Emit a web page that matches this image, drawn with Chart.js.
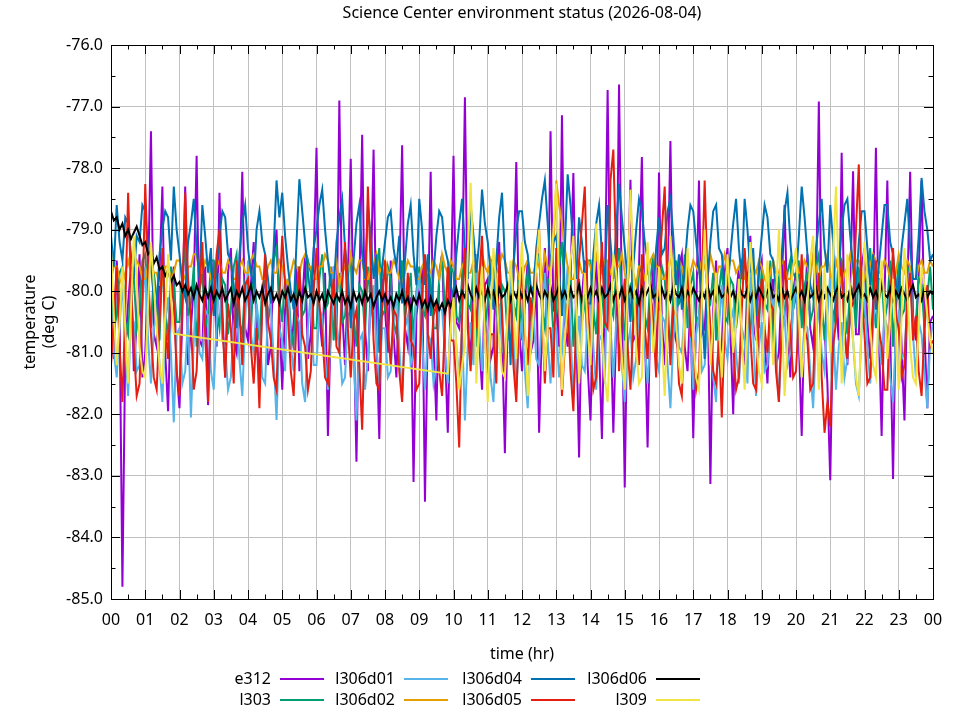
<!DOCTYPE html>
<html>
<head>
<meta charset="utf-8">
<script src="https://cdn.jsdelivr.net/npm/chart.js@4.4.1/dist/chart.umd.min.js"></script>
<style>
  html, body { margin: 0; padding: 0; background: #fff; }
  #wrap { position: relative; width: 960px; height: 720px; font-family: "Noto Sans", sans-serif; }
  #c { position: absolute; left: 0; top: 0; }
  .lg-label { position: absolute; width: 120px; text-align: right; font-size: 16px; line-height: 20px; color: #000; }
  .lg-line { position: absolute; width: 44px; height: 2px; }
</style>
</head>
<body>
<div id="wrap">
  <canvas id="c" width="960" height="720"></canvas>
</div>
<script>
// ---- data (temperatures, deg C), 5-minute samples from 00:00 to 24:00 ----
const chartTitle = 'Science Center environment status (2026-08-04)';
const hourLabels = ['00','01','02','03','04','05','06','07','08','09','10','11','12',
                    '13','14','15','16','17','18','19','20','21','22','23','00'];
const seriesNames = ['e312','l303','l306d01','l306d02','l306d04','l306d05','l306d06','l309'];
const seriesColors = ['#9400d3','#009e73','#56b4e9','#e69f00','#0072b2','#e51e10','#000000','#f0e442'];
const timeHours = Array.from({length: 289}, (_, i) => i / 12);

const e312 = [
 -80.6,-81.1,-79.5,-80.3,-84.8,-80.9,-80.2,-79.6,-81.3,-80.5,-79.4,-81.4,-81.0,-79.8,-77.4,-80.7,-80.9,-79.7,-78.3,-81.0,-81.95,-80.2,-79.6,-81.3,
 -81.9,-80.4,-78.3,-81.2,-80.6,-79.9,-77.8,-80.8,-80.9,-79.6,-81.85,-80.1,-79.5,-80.9,-78.4,-80.3,-81.4,-79.7,-79.3,-80.8,-81.0,-79.9,-78.06,-80.6,
 -80.8,-79.9,-79.2,-80.6,-81.5,-80.1,-79.7,-81.2,-80.9,-79.5,-79.0,-80.4,-81.6,-80.3,-79.8,-81.0,-80.5,-79.6,-81.3,-80.2,-79.4,-81.1,-80.7,-79.5,
 -77.67,-80.4,-80.9,-79.7,-82.35,-80.6,-79.6,-80.8,-76.9,-80.3,-81.2,-79.8,-77.85,-80.5,-82.77,-80.0,-77.46,-80.6,-81.3,-79.9,-77.7,-80.7,-82.4,-79.8,
 -80.3,-81.0,-79.5,-80.7,-81.4,-79.9,-77.63,-80.6,-80.9,-80.1,-83.1,-80.4,-80.0,-79.6,-83.42,-80.5,-78.06,-80.8,-82.1,-79.7,-79.4,-80.9,-82.3,-80.2,
 -77.8,-80.5,-80.6,-79.9,-76.85,-80.4,-81.2,-79.7,-79.4,-80.8,-81.6,-79.9,-79.8,-81.1,-80.9,-79.6,-79.2,-80.7,-82.63,-80.4,-80.3,-79.8,-77.9,-80.6,
 -81.3,-80.2,-79.5,-81.0,-80.8,-79.7,-82.3,-80.5,-79.3,-80.6,-77.4,-80.3,-80.2,-80.9,-77.14,-80.5,-80.9,-79.8,-78.08,-80.6,-82.7,-80.1,-79.5,-81.2,
 -82.1,-80.3,-79.4,-80.9,-82.4,-80.1,-76.73,-80.4,-82.3,-80.6,-76.64,-80.2,-83.19,-80.0,-78.19,-80.8,-80.7,-79.6,-77.82,-80.5,-82.54,-80.3,-79.6,-81.0,
 -78.07,-80.5,-81.2,-80.0,-77.56,-80.6,-80.8,-79.6,-79.4,-80.9,-81.3,-80.2,-82.39,-80.4,-78.2,-80.7,-80.6,-79.8,-83.13,-80.3,-79.5,-81.1,-80.9,-79.7,
 -79.3,-80.6,-82.0,-80.1,-79.6,-80.9,-81.2,-79.8,-79.1,-80.5,-80.8,-79.7,-79.5,-80.8,-81.5,-80.2,-79.8,-81.2,-81.0,-79.9,-78.6,-80.4,-81.4,-80.0,
 -79.7,-80.8,-82.35,-80.3,-79.4,-80.6,-80.9,-80.1,-76.92,-80.5,-80.6,-81.5,-83.07,-80.4,-80.2,-80.8,-77.75,-80.6,-81.2,-79.9,-78.05,-80.7,-80.7,-79.6,
 -79.3,-80.5,-81.1,-80.2,-77.67,-80.6,-82.35,-80.1,-78.2,-80.7,-83.05,-80.3,-79.6,-80.9,-82.1,-80.0,-78.06,-80.4,-80.8,-79.7,-78.2,-80.6,-81.9,-80.5,
 -80.4];

const l303 = [
 -79.9,-80.6,-80.4,-79.7,-79.6,-80.5,-80.7,-79.8,-79.8,-80.6,-80.3,-79.5,-79.4,-80.2,-80.6,-79.7,-80.1,-80.8,-79.5,-80.3,-80.8,-79.6,-79.9,-80.5,
 -80.5,-79.7,-79.3,-80.4,-80.2,-79.6,-80.9,-80.0,-79.7,-80.6,-80.4,-79.5,-79.5,-80.3,-80.6,-79.8,-79.9,-80.7,-80.3,-79.6,-79.4,-80.5,-80.7,-79.9,
 -80.1,-80.7,-79.6,-80.3,-80.8,-79.9,-79.8,-80.5,-80.2,-79.5,-79.3,-80.1,-80.5,-79.8,-79.9,-80.6,-80.9,-80.0,-79.6,-80.4,-80.3,-79.5,-79.7,-80.6,
 -80.6,-79.8,-79.4,-80.3,-80.2,-79.6,-80.8,-80.1,-79.7,-80.5,-80.4,-79.7,-79.5,-80.4,-80.9,-79.9,-80.0,-80.7,-79.6,-80.2,-80.5,-79.7,-79.3,-80.4,
 -80.3,-79.6,-79.8,-80.5,-80.7,-79.9,-79.5,-80.4,-80.1,-79.7,-80.8,-80.0,-79.6,-80.3,-80.4,-79.5,-79.9,-80.6,-80.6,-79.8,-79.4,-80.3,-80.2,-79.6,
 -79.7,-80.4,-80.5,-79.8,-79.3,-80.2,-80.3,-79.6,-80.9,-80.1,-79.8,-80.6,-80.2,-79.5,-79.5,-80.3,-80.7,-79.9,-80.0,-80.8,-79.6,-80.2,-80.4,-79.7,
 -80.8,-80.0,-79.7,-80.5,-80.1,-79.4,-79.4,-80.3,-80.6,-79.8,-79.9,-80.7,-80.3,-79.6,-79.2,-80.1,-80.5,-79.7,-80.9,-80.2,-79.8,-80.5,-80.2,-79.5,
 -79.5,-80.3,-80.7,-79.9,-80.0,-80.6,-79.6,-80.2,-80.4,-79.7,-79.3,-80.1,-80.8,-80.0,-79.9,-80.5,-80.2,-79.6,-79.7,-80.4,-80.6,-79.8,-79.4,-80.3,
 -80.3,-79.6,-79.8,-80.5,-80.9,-80.1,-79.5,-80.2,-80.1,-79.4,-80.6,-79.9,-79.7,-80.5,-80.4,-79.6,-79.3,-80.1,-80.2,-79.7,-80.8,-80.0,-79.6,-80.4,
 -80.5,-79.8,-79.9,-80.6,-80.2,-79.5,-79.4,-80.3,-80.7,-79.9,-80.0,-80.6,-79.6,-80.2,-80.3,-79.5,-80.9,-80.1,-79.8,-80.5,-80.4,-79.7,-79.5,-80.3,
 -80.1,-79.5,-80.6,-79.9,-79.7,-80.5,-80.3,-79.6,-79.4,-80.2,-80.8,-80.0,-79.9,-80.6,-80.2,-79.4,-79.5,-80.3,-80.7,-79.9,-80.0,-80.6,-79.6,-80.3,
 -80.4,-79.7,-79.3,-80.1,-80.6,-79.8,-79.8,-80.5,-80.2,-79.5,-80.9,-80.1,-79.5,-80.4,-80.3,-79.6,-79.7,-80.5,-80.5,-79.8,-79.9,-80.6,-80.1,-79.6,
 -80.3];

const l306d01 = [
 -80.3,-81.0,-81.4,-80.6,-79.8,-80.9,-81.7,-80.4,-80.5,-81.3,-81.2,-80.2,-79.6,-80.8,-81.5,-80.6,-80.4,-81.2,-81.8,-80.5,-80.1,-81.0,-82.13,-80.7,
 -80.6,-81.5,-81.3,-80.4,-82.05,-80.8,-79.9,-81.0,-81.1,-80.3,-80.4,-81.3,-81.6,-80.5,-79.7,-80.8,-80.9,-81.6,-81.4,-80.6,-80.2,-81.1,-81.7,-80.5,
 -79.5,-80.7,-81.0,-80.2,-80.6,-81.4,-81.5,-80.3,-80.2,-81.1,-82.09,-80.6,-80.8,-81.3,-79.8,-80.9,-81.3,-80.4,-80.5,-81.5,-81.8,-80.6,-80.0,-81.2,
 -81.2,-80.3,-80.4,-81.1,-81.6,-80.7,-79.6,-80.5,-80.9,-81.5,-81.4,-80.4,-80.3,-81.0,-82.1,-80.8,-80.7,-81.6,-81.1,-80.2,-79.9,-80.9,-81.5,-80.6,
 -80.6,-81.4,-81.3,-80.5,-80.0,-80.9,-81.7,-80.6,-80.4,-81.2,-81.0,-80.1,-79.7,-80.8,-81.6,-80.7,-80.8,-81.5,-81.2,-80.3,-80.3,-81.0,-81.5,-80.4,
 -80.1,-80.9,-81.4,-80.6,-82.1,-80.9,-80.5,-81.2,-79.4,-80.6,-81.3,-80.5,-80.7,-81.4,-81.8,-80.6,-80.2,-80.9,-81.1,-80.4,-79.8,-80.7,-81.6,-80.8,
 -80.5,-81.3,-81.9,-80.7,-80.3,-81.1,-81.2,-80.4,-79.7,-80.8,-81.5,-80.6,-80.6,-81.4,-81.0,-80.2,-79.6,-80.7,-81.7,-80.9,-80.4,-81.2,-81.3,-80.5,
 -80.0,-80.9,-81.6,-80.7,-80.8,-81.5,-79.5,-80.6,-81.4,-80.5,-80.3,-81.2,-81.8,-80.9,-80.6,-81.4,-81.1,-80.3,-79.8,-80.9,-81.5,-80.7,-80.2,-81.1,
 -81.3,-80.4,-80.5,-81.2,-81.9,-80.8,-80.1,-80.9,-81.0,-80.3,-79.7,-80.8,-81.6,-80.7,-80.4,-81.3,-81.2,-80.5,-80.7,-81.4,-81.8,-80.6,-79.9,-80.8,
 -81.1,-80.5,-80.3,-81.0,-81.5,-80.6,-80.8,-81.5,-79.6,-80.7,-81.7,-80.9,-80.5,-81.3,-81.2,-80.4,-80.0,-80.9,-81.8,-80.7,-80.4,-81.2,-81.0,-80.3,
 -79.8,-80.7,-81.4,-80.5,-80.6,-81.3,-81.9,-80.8,-80.2,-81.0,-81.3,-80.4,-79.7,-80.6,-81.6,-80.9,-80.5,-81.4,-81.1,-80.3,-80.8,-81.5,-81.7,-80.6,
 -80.1,-80.9,-81.5,-80.6,-79.9,-80.8,-81.2,-80.4,-80.6,-81.4,-81.8,-80.7,-80.3,-81.1,-81.0,-80.2,-79.6,-80.7,-81.4,-80.5,-80.7,-81.3,-81.9,-80.8,
 -80.5];

const l306d02 = [
 -79.8,-79.6,-79.6,-79.8,-79.9,-79.7,-79.5,-79.7,-79.7,-79.5,-79.6,-79.8,-79.8,-79.6,-79.5,-79.7,-79.7,-79.9,-79.9,-79.6,-79.6,-79.8,-79.7,-79.5,
 -79.5,-79.7,-79.8,-79.6,-79.6,-79.4,-79.4,-79.7,-79.7,-79.5,-79.6,-79.8,-79.9,-79.6,-79.5,-79.7,-79.7,-79.5,-79.6,-79.8,-79.8,-79.6,-79.5,-79.7,
 -79.7,-79.5,-79.4,-79.6,-79.6,-79.8,-79.8,-79.6,-79.5,-79.7,-79.7,-79.5,-79.6,-79.8,-79.9,-79.7,-79.5,-79.6,-79.7,-79.5,-79.4,-79.6,-79.6,-79.8,
 -79.8,-79.6,-79.6,-79.4,-79.5,-79.7,-79.7,-79.5,-79.9,-79.7,-79.6,-79.8,-79.4,-79.6,-79.7,-79.5,-79.5,-79.8,-79.8,-79.6,-79.6,-79.4,-79.7,-79.6,
 -79.5,-79.7,-79.7,-79.5,-79.6,-79.8,-79.9,-79.7,-79.5,-79.6,-79.6,-79.8,-79.8,-79.6,-79.5,-79.7,-79.7,-79.5,-79.6,-79.8,-79.4,-79.6,-79.7,-79.5,
 -79.6,-79.8,-79.8,-79.6,-79.5,-79.7,-79.7,-79.5,-79.6,-79.8,-79.4,-79.6,-79.7,-79.5,-79.9,-79.7,-79.6,-79.4,-79.5,-79.7,-79.7,-79.5,-79.6,-79.8,
 -79.8,-79.6,-79.5,-79.7,-79.7,-79.5,-79.6,-79.8,-79.4,-79.6,-79.7,-79.3,-78.2,-78.6,-78.9,-79.3,-79.6,-79.8,-79.8,-79.6,-79.5,-79.7,-79.7,-79.5,
 -79.6,-79.8,-79.4,-79.6,-79.7,-79.5,-79.5,-79.7,-79.8,-79.6,-79.6,-79.4,-79.7,-79.9,-79.5,-79.7,-79.9,-79.6,-79.6,-79.8,-79.7,-79.5,-79.4,-79.6,
 -79.6,-79.8,-79.8,-79.6,-79.5,-79.7,-79.7,-79.5,-79.6,-79.8,-79.9,-79.7,-79.5,-79.6,-79.7,-79.5,-79.6,-79.8,-79.4,-79.6,-79.8,-79.6,-79.6,-79.4,
 -79.7,-79.5,-79.5,-79.7,-79.6,-79.8,-79.8,-79.6,-79.4,-79.6,-79.7,-79.5,-79.6,-79.8,-79.9,-79.7,-79.5,-79.7,-79.7,-79.5,-79.6,-79.8,-79.8,-79.6,
 -79.5,-79.7,-79.7,-79.5,-79.6,-79.8,-79.4,-79.6,-79.8,-79.6,-79.6,-79.4,-79.7,-79.9,-79.5,-79.7,-79.9,-79.7,-79.6,-79.4,-79.7,-79.5,-79.5,-79.7,
 -79.8,-79.6,-79.6,-79.4,-79.5,-79.7,-79.7,-79.5,-79.6,-79.8,-79.9,-79.7,-79.4,-79.6,-79.7,-79.5,-79.6,-79.8,-79.8,-79.6,-79.5,-79.7,-79.7,-79.5,
 -79.6];

const l306d04 = [
 -79.1,-79.6,-78.6,-79.2,-79.5,-78.8,-78.9,-79.4,-79.8,-79.1,-79.2,-78.6,-78.7,-79.3,-79.6,-80.1,-80.3,-79.4,-79.0,-78.7,-78.8,-79.5,-78.3,-79.0,
 -79.4,-79.9,-80.1,-79.2,-78.9,-78.5,-79.3,-79.8,-78.6,-79.1,-79.7,-79.3,-80.4,-79.6,-79.1,-78.7,-78.8,-79.4,-79.5,-79.9,-80.6,-79.4,-78.9,-78.6,
 -79.3,-79.7,-79.9,-79.0,-78.7,-79.2,-79.4,-79.8,-80.2,-79.3,-78.2,-78.8,-78.4,-79.1,-79.6,-80.0,-80.3,-79.2,-78.18,-78.7,-79.2,-79.7,-80.1,-79.3,
 -79.0,-78.6,-78.35,-79.0,-79.5,-79.9,-80.0,-79.2,-78.8,-78.5,-79.3,-79.7,-80.6,-79.5,-78.9,-78.6,-79.4,-79.8,-78.6,-79.1,-79.8,-79.4,-81.0,-79.6,
 -79.2,-78.8,-78.7,-79.3,-79.6,-79.1,-80.2,-79.5,-78.9,-78.6,-79.4,-79.9,-78.5,-79.0,-79.9,-79.4,-80.4,-79.7,-79.1,-78.7,-78.8,-79.3,-79.5,-79.9,
 -80.1,-79.4,-78.9,-78.5,-79.3,-79.8,-78.6,-79.1,-79.7,-79.2,-78.35,-78.9,-79.2,-79.7,-80.3,-79.5,-78.8,-78.4,-79.5,-80.0,-81.2,-79.6,-79.0,-78.7,
 -78.7,-79.2,-79.4,-79.9,-80.0,-79.3,-78.9,-78.5,-78.2,-78.9,-79.6,-79.2,-79.1,-79.7,-80.4,-79.3,-78.1,-78.6,-79.3,-79.8,-78.8,-79.2,-79.7,-80.2,
 -80.2,-79.4,-78.9,-78.6,-79.4,-79.9,-78.6,-79.2,-79.8,-79.0,-78.25,-78.8,-79.3,-79.8,-80.5,-79.6,-79.0,-78.5,-78.7,-79.2,-79.5,-80.0,-80.1,-79.3,
 -78.8,-79.4,-79.3,-78.7,-78.5,-79.1,-79.9,-79.4,-80.3,-79.6,-79.0,-78.6,-78.7,-79.2,-79.6,-80.2,-81.1,-79.8,-79.2,-78.7,-78.6,-79.3,-79.4,-79.9,
 -80.0,-79.4,-78.9,-78.5,-79.3,-79.8,-78.5,-79.0,-79.7,-79.3,-80.4,-79.6,-79.1,-78.6,-78.8,-79.4,-79.5,-80.0,-80.2,-79.4,-78.7,-78.4,-79.2,-79.7,
 -79.8,-79.1,-78.3,-78.8,-79.4,-79.9,-80.1,-79.3,-78.9,-78.5,-79.3,-79.7,-78.6,-79.2,-80.5,-79.6,-79.0,-78.6,-78.5,-79.1,-79.6,-80.0,-79.2,-78.7,
 -78.7,-79.3,-79.9,-79.4,-80.3,-79.6,-79.1,-78.6,-78.6,-79.2,-79.4,-79.9,-80.0,-79.3,-78.9,-78.5,-79.3,-79.8,-79.8,-79.1,-78.16,-78.7,-79.0,-79.5,
 -79.4];

const l306d05 = [
 -81.2,-80.4,-79.6,-80.9,-81.8,-80.3,-78.4,-79.9,-80.9,-81.7,-81.5,-80.2,-78.26,-79.7,-80.7,-81.4,-81.6,-80.5,-79.3,-80.6,-81.1,-79.8,-80.2,-81.3,
 -81.7,-80.1,-78.4,-79.8,-80.5,-81.6,-81.3,-80.0,-79.2,-80.7,-81.8,-80.4,-80.1,-79.4,-79.0,-80.5,-81.4,-80.2,-80.6,-81.5,-79.5,-80.3,-81.2,-79.9,
 -79.8,-80.9,-81.5,-80.6,-81.9,-80.2,-79.4,-80.5,-80.8,-81.4,-81.6,-80.1,-79.1,-79.9,-80.4,-81.3,-81.7,-80.4,-79.6,-80.7,-80.9,-81.6,-81.3,-80.0,
 -79.3,-80.2,-80.7,-81.4,-81.5,-80.3,-79.8,-80.9,-81.0,-79.9,-79.2,-80.6,-81.4,-80.5,-80.3,-81.2,-82.25,-80.4,-78.3,-79.6,-80.8,-81.5,-81.6,-80.2,
 -79.5,-80.6,-81.2,-80.3,-80.4,-81.3,-81.8,-80.5,-79.7,-80.8,-80.9,-81.6,-81.5,-80.1,-79.4,-80.7,-81.1,-80.4,-80.2,-81.3,-81.7,-80.5,-79.6,-80.8,
 -80.8,-81.5,-82.54,-80.4,-79.3,-80.6,-81.3,-80.2,-80.5,-79.8,-79.1,-80.4,-81.6,-80.7,-80.7,-81.5,-79.4,-80.3,-81.4,-80.5,-80.1,-81.2,-81.8,-80.3,
 -79.6,-80.7,-81.2,-80.1,-80.4,-79.6,-79.0,-80.3,-81.5,-80.6,-80.6,-81.4,-79.3,-80.2,-81.7,-80.9,-80.2,-81.3,-81.95,-80.4,-79.5,-78.9,-78.3,-80.2,
 -80.9,-81.6,-81.4,-80.2,-79.2,-80.5,-80.6,-78.2,-77.7,-79.5,-81.3,-80.4,-79.8,-80.9,-81.6,-80.5,-80.3,-81.2,-79.4,-80.6,-81.1,-80.0,-80.5,-81.4,
 -79.7,-79.0,-78.3,-80.1,-81.2,-80.3,-80.4,-81.5,-81.7,-80.4,-79.5,-80.7,-80.8,-81.6,-81.3,-79.9,-78.2,-79.8,-80.6,-81.3,-81.5,-80.8,-82.05,-80.6,
 -79.6,-80.5,-80.9,-81.6,-81.4,-80.3,-79.3,-80.1,-80.7,-81.5,-81.6,-80.4,-79.8,-80.6,-81.0,-80.2,-80.3,-81.3,-81.8,-80.5,-79.5,-80.2,-80.6,-81.4,
 -81.3,-80.4,-79.4,-80.6,-80.8,-81.6,-81.5,-80.2,-79.7,-81.4,-82.3,-81.8,-82.2,-80.9,-80.5,-79.8,-79.6,-80.7,-81.1,-80.3,-80.2,-79.0,-77.94,-80.1,
 -80.7,-81.5,-81.4,-80.3,-79.5,-80.6,-80.9,-81.6,-81.6,-80.2,-79.3,-80.4,-80.6,-81.4,-81.2,-80.1,-79.7,-80.8,-80.4,-81.3,-81.7,-80.6,-79.9,-80.9,
 -80.8];

const l306d06 = [
 -78.7,-78.85,-78.8,-79.0,-78.9,-79.1,-79.0,-79.15,-79.05,-78.95,-79.1,-79.25,-79.2,-79.4,-79.35,-79.55,-79.45,-79.65,-79.6,-79.75,-79.65,-79.85,-79.75,-79.9,
 -79.85,-80.0,-79.9,-80.05,-79.95,-80.1,-79.9,-80.05,-80.15,-79.95,-80.1,-79.95,-80.15,-80.0,-80.1,-79.95,-80.15,-80.05,-79.95,-80.2,-80.0,-80.1,-79.95,-80.15,
 -80.05,-79.9,-80.15,-80.0,-80.1,-79.95,-80.2,-80.05,-79.95,-80.15,-80.05,-80.2,-80.0,-80.1,-79.95,-80.15,-80.05,-80.2,-80.0,-80.15,-79.95,-80.1,-80.05,-80.2,
 -80.0,-80.15,-80.05,-80.25,-80.0,-80.1,-80.2,-80.05,-80.15,-80.0,-80.2,-80.1,-80.25,-80.0,-80.15,-80.05,-80.2,-80.0,-80.15,-80.05,-80.25,-80.1,-80.0,-80.15,
 -80.05,-80.2,-80.1,-80.25,-80.05,-80.15,-80.0,-80.2,-80.1,-80.3,-80.1,-80.2,-80.05,-80.25,-80.15,-80.3,-80.1,-80.25,-80.15,-80.3,-80.2,-80.35,-80.15,-80.25,
 -80.1,-79.95,-80.15,-80.0,-80.1,-79.9,-80.05,-80.15,-79.95,-80.1,-80.0,-80.15,-79.95,-80.1,-80.0,-80.2,-79.95,-80.1,-80.05,-79.9,-80.15,-80.0,-80.1,-79.95,
 -80.1,-80.0,-80.15,-79.95,-80.1,-79.9,-80.05,-80.15,-80.0,-80.1,-79.95,-80.15,-80.05,-79.9,-80.1,-80.0,-80.15,-79.95,-80.1,-80.05,-79.9,-80.15,-80.0,-80.1,
 -79.95,-80.1,-80.0,-80.15,-79.95,-80.1,-80.05,-79.9,-80.15,-80.0,-80.1,-79.95,-80.15,-80.05,-79.95,-80.1,-80.0,-80.2,-79.95,-80.1,-80.0,-79.9,-80.1,-80.05,
 -80.15,-79.95,-80.1,-80.0,-80.15,-79.9,-80.05,-80.1,-79.95,-80.15,-80.0,-80.1,-79.95,-80.05,-80.15,-80.0,-80.1,-79.9,-80.1,-80.0,-80.15,-79.95,-80.1,-80.05,
 -79.95,-80.1,-80.0,-80.15,-79.9,-80.05,-80.1,-79.95,-80.15,-80.0,-80.1,-79.95,-80.05,-80.15,-80.0,-79.9,-80.1,-80.05,-80.15,-79.95,-80.1,-80.0,-80.15,-80.05,
 -79.95,-80.1,-80.0,-80.15,-79.9,-80.1,-80.05,-79.95,-80.15,-80.0,-80.1,-79.95,-80.05,-80.15,-80.0,-79.9,-80.1,-80.05,-80.15,-79.95,-80.1,-80.0,-79.9,-80.1,
 -80.05,-80.15,-79.95,-80.1,-80.0,-80.15,-79.9,-80.05,-80.1,-79.95,-80.15,-80.0,-80.1,-79.95,-80.05,-80.15,-80.0,-79.9,-80.1,-80.05,-80.15,-79.95,-80.1,-80.0,
 -80.05];

// l309 has no readings between about 01:50 and 09:50 (the line spans the gap)
const l309 = [
 -79.3,-80.4,-81.2,-80.5,-79.6,-80.6,-81.5,-80.3,-79.1,-79.8,-80.9,-81.3,-81.4,-80.2,-79.2,-79.9,-80.6,-81.2,-81.5,-80.4,-79.4,-80.1,-80.69,null,
 null,null,null,null,null,null,null,null,null,null,null,null,null,null,null,null,null,null,null,null,null,null,null,null,
 null,null,null,null,null,null,null,null,null,null,null,null,null,null,null,null,null,null,null,null,null,null,null,null,
 null,null,null,null,null,null,null,null,null,null,null,null,null,null,null,null,null,null,null,null,null,null,null,null,
 null,null,null,null,null,null,null,null,null,null,null,null,null,null,null,null,null,null,null,null,null,null,-81.34,-80.6,
 -80.1,-80.9,-81.6,-81.2,-80.9,-79.4,-78.24,-79.6,-81.5,-80.5,-79.6,-80.7,-81.8,-80.4,-79.3,-79.9,-80.8,-81.3,-81.4,-80.3,-79.5,-80.2,-81.1,-80.0,
 -79.2,-80.5,-81.7,-81.0,-80.4,-79.6,-79.0,-80.2,-81.3,-80.6,-79.8,-79.0,-78.25,-79.9,-81.6,-80.8,-80.2,-79.5,-79.1,-80.3,-81.5,-80.7,-79.7,-80.6,
 -81.2,-80.0,-78.9,-79.8,-80.7,-81.4,-81.8,-80.6,-79.4,-79.7,-80.3,-81.1,-81.6,-79.9,-78.35,-79.6,-80.9,-81.5,-81.4,-80.2,-79.2,-80.1,-81.0,-80.4,
 -79.6,-80.8,-81.7,-80.4,-79.1,-79.8,-80.5,-81.2,-81.5,-80.3,-79.3,-80.0,-80.8,-81.4,-81.6,-80.2,-79.0,-80.1,-81.2,-80.5,-79.7,-80.6,-81.4,-80.3,
 -79.4,-80.2,-81.0,-80.5,-79.8,-80.7,-81.6,-80.4,-79.2,-79.9,-80.7,-81.3,-81.5,-80.3,-79.5,-80.4,-81.2,-80.1,-79.0,-80.3,-81.7,-80.9,-80.1,-79.6,
 -79.3,-80.4,-81.4,-80.8,-80.2,-79.5,-79.1,-80.3,-81.6,-80.5,-79.6,-80.4,-81.0,-79.4,-78.3,-79.8,-81.5,-80.6,-79.4,-80.0,-80.8,-81.4,-81.7,-80.5,
 -79.2,-79.8,-80.6,-81.2,-81.4,-80.3,-79.5,-80.2,-81.1,-80.5,-79.8,-80.7,-81.6,-80.4,-79.3,-80.0,-80.9,-81.4,-81.5,-80.6,-79.6,-79.9,-80.4,-80.8,
 -81.0];

const seriesValues = [e312, l303, l306d01, l306d02, l306d04, l306d05, l306d06, l309];

// ---- chart ----
const FONT = { family: '"Noto Sans", sans-serif', size: 16, weight: 'normal' };

const datasets = seriesNames.map((name, i) => ({
  label: name,
  data: seriesValues[i].map((v, k) => ({ x: timeHours[k], y: v })),
  borderColor: seriesColors[i],
  backgroundColor: seriesColors[i],
  borderWidth: 2,
  pointRadius: 0,
  tension: 0,
  fill: false,
  spanGaps: true,
  order: seriesNames.length - 1 - i
}));

const framePlugin = {
  id: 'frame',
  afterDraw(chart) {
    const { ctx, chartArea: a, scales: { x, y } } = chart;
    ctx.save();
    ctx.strokeStyle = '#000';
    ctx.lineWidth = 1;
    ctx.beginPath();
    for (let h = 0; h <= 24; h += 0.5) {
      const px = Math.round(x.getPixelForValue(h)) + 0.5;
      const len = Number.isInteger(h) ? 9 : 4.5;
      ctx.moveTo(px, a.bottom); ctx.lineTo(px, a.bottom - len);
      ctx.moveTo(px, a.top); ctx.lineTo(px, a.top + len);
    }
    for (let v = -85; v <= -76; v += 0.5) {
      const py = Math.round(y.getPixelForValue(v)) + 0.5;
      const len = Number.isInteger(v) ? 9 : 4.5;
      ctx.moveTo(a.left, py); ctx.lineTo(a.left + len, py);
      ctx.moveTo(a.right, py); ctx.lineTo(a.right - len, py);
    }
    ctx.stroke();
    ctx.strokeRect(Math.round(a.left) + 0.5, Math.round(a.top) + 0.5,
                   Math.round(a.right - a.left), Math.round(a.bottom - a.top));
    ctx.restore();
  }
};

new Chart(document.getElementById('c'), {
  type: 'line',
  data: { datasets },
  plugins: [framePlugin],
  options: {
    responsive: false,
    animation: false,
    devicePixelRatio: 1,
    layout: { padding: { left: 0, right: 27, top: 0, bottom: 56 } },
    plugins: {
      legend: { display: false },
      tooltip: { enabled: false },
      title: {
        display: true,
        text: chartTitle,
        color: '#000',
        font: FONT,
        fullSize: false,
        padding: { top: 4, bottom: 21.8 }
      }
    },
    scales: {
      x: {
        type: 'linear',
        min: 0, max: 24,
        afterFit: s => { s.height = 65; },
        grid: { color: '#c0c0c0', lineWidth: 1, drawTicks: false },
        border: { display: false },
        ticks: {
          stepSize: 1, autoSkip: false, maxRotation: 0, padding: 12,
          color: '#000', font: FONT,
          callback: v => hourLabels[v]
        },
        title: { display: true, text: 'time (hr)', color: '#000', font: FONT, padding: { top: 0, bottom: 0 } }
      },
      y: {
        type: 'linear',
        min: -85, max: -76,
        afterFit: s => { s.width = 111; },
        grid: { color: '#c0c0c0', lineWidth: 1, drawTicks: false },
        border: { display: false },
        ticks: {
          stepSize: 1, padding: 8, color: '#000', font: FONT,
          callback: v => v.toFixed(1)
        },
        title: {
          display: true, text: ['temperature', '(deg C)'], color: '#000',
          font: Object.assign({}, FONT, { lineHeight: 1.2 }),
          padding: { top: 21, bottom: 0 }
        }
      }
    }
  }
});

// ---- legend (gnuplot style: two rows, filled column by column) ----
const wrap = document.getElementById('wrap');
const colRight = [271, 395, 522, 647];
const rowY = [679, 700];
seriesNames.forEach((name, i) => {
  const col = Math.floor(i / 2), row = i % 2;
  const lab = document.createElement('div');
  lab.className = 'lg-label';
  lab.textContent = name;
  lab.style.left = (colRight[col] - 120) + 'px';
  lab.style.top = (rowY[row] - 11) + 'px';
  wrap.appendChild(lab);
  const ln = document.createElement('div');
  ln.className = 'lg-line';
  ln.style.background = seriesColors[i];
  ln.style.left = (colRight[col] + 9) + 'px';
  ln.style.top = (rowY[row] - 1) + 'px';
  wrap.appendChild(ln);
});
</script>
</body>
</html>
